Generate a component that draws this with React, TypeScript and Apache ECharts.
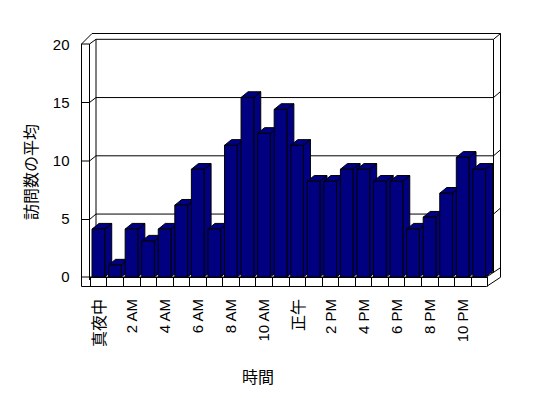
import React, { useEffect, useRef } from "react";
import * as echarts from "echarts";

const hours = [
  "真夜中", "1 AM", "2 AM", "3 AM", "4 AM", "5 AM", "6 AM", "7 AM", "8 AM", "9 AM", "10 AM", "11 AM",
  "正午", "1 PM", "2 PM", "3 PM", "4 PM", "5 PM", "6 PM", "7 PM", "8 PM", "9 PM", "10 PM", "11 PM",
];
const visits = [4, 1, 4, 3, 4, 6, 9, 4, 11, 15, 12, 14, 11, 8, 8, 9, 9, 8, 8, 4, 5, 7, 10, 9];
const gridValues = [5, 10, 15];
const yTitle = "訪問数の平均";
const xTitle = "時間";

const NAVY = "#000080";
const LINE = "#000000";
const CJK = '"Noto Sans CJK JP", sans-serif';
const LAT = '"Liberation Sans", "DejaVu Sans", sans-serif';

// wall geometry (layout)
const frontX = 81.5;
const capX = 89.5;
const backL = 96;
const backR = 493.5;
const slabX = 500.5;
const slabTop = 33.5;
const floorFront = 286.5;
const floorTop = 277;
const floorRight = 486.5;
const yf = (v: number) => 278 - 11.7 * v;
const yb = (v: number) => 272.3 - 11.65 * v;

export default function App() {
  const ref = useRef<HTMLDivElement>(null);
  useEffect(() => {
    if (!ref.current) return;
    const chart = echarts.init(ref.current, null, { renderer: "svg" });
    const st = { stroke: LINE, lineWidth: 1, fill: null as any };
    const graphics: any[] = [
      {
        type: "polygon",
        shape: {
          points: [
            [frontX, yf(20)], [92, slabTop], [slabX, slabTop], [slabX, 277.3],
            [floorRight, floorFront], [frontX, floorFront],
          ],
        },
        style: { fill: "#fff", stroke: LINE, lineWidth: 1 },
      },
      { type: "line", shape: { x1: frontX, y1: yf(20), x2: capX, y2: yf(20) }, style: st },
      { type: "line", shape: { x1: capX, y1: yf(20), x2: capX, y2: 280 }, style: st },
      { type: "line", shape: { x1: capX, y1: yf(20), x2: backL, y2: yb(20) }, style: st },
      { type: "rect", shape: { x: backL, y: yb(20), width: backR - backL, height: yb(0) - yb(20) }, style: st },
      { type: "line", shape: { x1: backR, y1: yb(20), x2: slabX, y2: slabTop }, style: st },
      { type: "line", shape: { x1: frontX, y1: floorTop, x2: floorRight, y2: floorTop }, style: st },
      { type: "line", shape: { x1: floorRight, y1: floorTop, x2: slabX, y2: 267.7 }, style: st },
    ];
    gridValues.forEach((v) => {
      graphics.push({
        type: "polyline",
        shape: {
          points: [[frontX, yf(v)], [capX, yf(v)], [backL, yb(v)], [backR, yb(v)], [slabX, yb(v) - 6]],
        },
        style: st,
      });
    });
    graphics.push({
      type: "text",
      x: 258,
      y: 376,
      style: { text: xTitle, font: `16px ${CJK}`, fill: "#000", align: "center", verticalAlign: "middle" },
    });
    graphics.push({
      type: "text",
      x: 30,
      y: 172,
      rotation: Math.PI / 2,
      style: { text: yTitle, font: `16px ${CJK}`, fill: "#000", align: "center", verticalAlign: "middle" },
    });

    chart.setOption({
      animation: false,
      backgroundColor: "#fff",
      graphic: graphics,
      grid: [
        { left: 90.1, right: 60.5, top: 37.6, bottom: 121 },
        { left: frontX, right: 100, top: 44, bottom: 122 },
      ],
      xAxis: [
        {
          type: "category",
          gridIndex: 0,
          data: hours,
          z: 5,
          axisLine: { show: true, lineStyle: { color: LINE, width: 1 } },
          axisTick: { show: true, length: 9.5, interval: 0, lineStyle: { color: LINE } },
          axisLabel: {
            interval: 1,
            rotate: 90,
            margin: 22,
            formatter: (s: string) => (/[A-Z]/.test(s) ? `{lat|${s}}` : `{cjk|${s}}`),
            rich: {
              lat: { fontFamily: LAT, fontSize: 15, color: "#000" },
              cjk: { fontFamily: CJK, fontSize: 16, color: "#000" },
            },
          },
          splitLine: { show: false },
        },
        { type: "value", gridIndex: 1, show: false },
      ],
      yAxis: [
        { type: "value", gridIndex: 0, min: 0, max: 20, show: false },
        {
          type: "value",
          gridIndex: 1,
          min: 0,
          max: 20,
          interval: 5,
          axisLine: { show: false },
          axisTick: { show: false },
          splitLine: { show: false },
          axisLabel: { margin: 12, fontFamily: LAT, fontSize: 15, color: "#000" },
        },
      ],
      series: [
        {
          type: "custom",
          xAxisIndex: 0,
          yAxisIndex: 0,
          encode: { x: 0, y: 1 },
          data: visits.map((v, i) => [i, v]),
          z: 10,
          renderItem: (params: any, api: any) => {
            const i = api.value(0);
            const v = api.value(1);
            const tp = api.coord([i, v]);
            const bs = api.coord([i, 0]);
            const band = api.size([1, 0])[0];
            const w = band * 0.767;
            const l = tp[0] - w / 2;
            const r = l + w;
            const t = tp[1];
            const b = bs[1];
            const dx = 7;
            const dy = -5.7;
            const s = { fill: NAVY, stroke: LINE, lineWidth: 1 };
            return {
              type: "group",
              children: [
                { type: "polygon", shape: { points: [[r, b], [r, t], [r + dx, t + dy], [r + dx, b + dy]] }, style: s },
                { type: "polygon", shape: { points: [[l, t], [l + dx, t + dy], [r + dx, t + dy], [r, t]] }, style: s },
                { type: "rect", shape: { x: l, y: t, width: w, height: b - t }, style: s },
              ],
            };
          },
        },
      ],
    });
    return () => chart.dispose();
  }, []);
  return (
    <div
      ref={ref}
      style={{ position: "fixed", left: 0, top: 0, width: 548, height: 398, background: "#fff" }}
    />
  );
}
